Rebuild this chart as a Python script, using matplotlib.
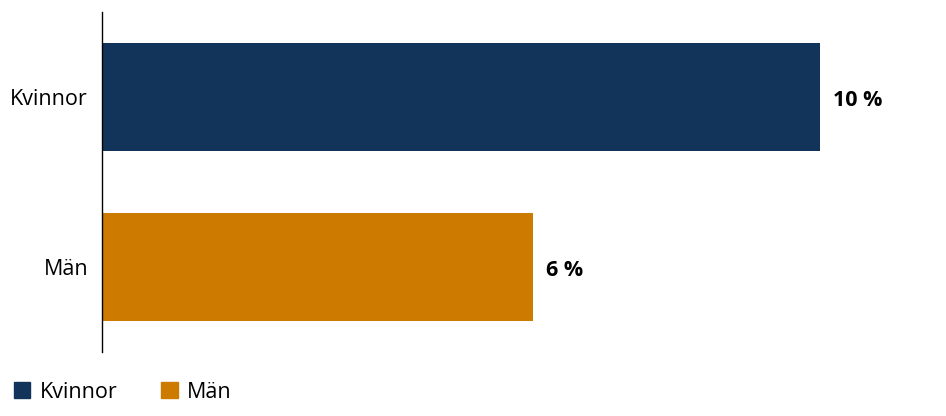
import matplotlib
matplotlib.use("Agg")
from matplotlib import pyplot as plt
from matplotlib.patches import Patch

categories = ['Kvinnor', 'Män']
values = [10, 6]
labels = ['10 %', '6 %']
colors = ['#13345a', '#cc7a00']

plt.rcParams['font.family'] = ['Open Sans', 'DejaVu Sans']

fig = plt.figure(figsize=(9.46, 4.16), dpi=100)
ax = fig.add_axes([102/946, 1-352/416, 828/946, 340/416])

ax.barh(range(len(categories)), values, height=0.63, color=colors)
for i, (v, lab) in enumerate(zip(values, labels)):
	ax.text(v + 0.18, i + 0.005, lab, va='center_baseline', ha='left', fontsize=15.5, fontweight='bold')

ax.set_ylim(1.5, -0.5)
ax.set_xlim(0, 828/71.8)
ax.set_yticks(range(len(categories)))
ax.set_yticklabels(categories, fontsize=15.5)
ax.tick_params(axis='y', length=0, pad=10)
ax.set_xticks([])
for s in ['top', 'right', 'bottom']:
	ax.spines[s].set_visible(False)
ax.spines['left'].set_linewidth(1)

handles = [Patch(color=c, label=l) for c, l in zip(colors, categories)]
fig.legend(handles=handles, loc='lower left', bbox_to_anchor=(-0.006, -0.015), ncol=2,
	frameon=False, fontsize=15.5, handlelength=0.75, handleheight=0.75,
	handletextpad=0.45, columnspacing=2.05)

fig.savefig('out.png', dpi=100)
